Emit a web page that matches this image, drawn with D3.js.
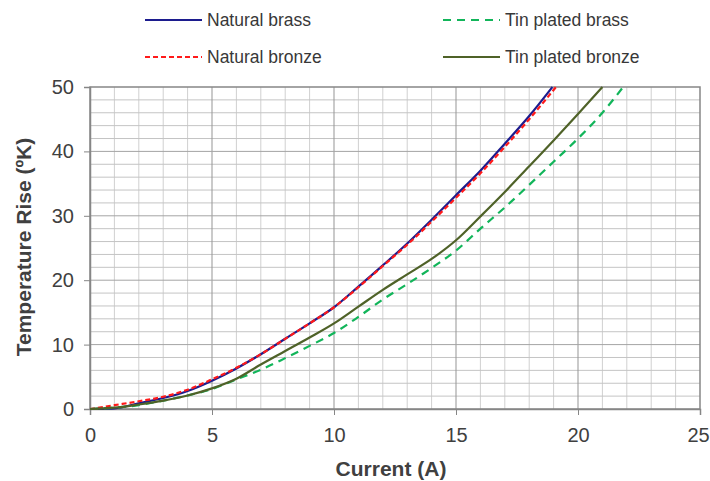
<!DOCTYPE html>
<html>
<head>
<meta charset="utf-8">
<script src="https://cdn.jsdelivr.net/npm/d3@7"></script>
<style>
  body { margin: 0; background: #fff; }
  svg { font-family: "Liberation Sans", Arial, sans-serif; }
</style>
</head>
<body>
<script>
const w = 710;
const h = 481;
const margin = { top: 87, right: 10, bottom: 73, left: 90 };

// values: current (A) -> temperature rise
const brassI = [0, 1, 2, 3, 4, 5, 6, 7, 8, 9, 10, 11, 12, 13, 14, 15, 16, 17, 18, 18.95];
const brassT = [0, 0.1, 0.9, 1.7, 2.8, 4.4, 6.3, 8.5, 10.9, 13.3, 15.8, 19.0, 22.3, 25.7, 29.4, 33.2, 37.0, 41.2, 45.5, 50];

const bronzeI = [0, 1, 2, 3, 4, 5, 6, 7, 8, 9, 10, 11, 12, 13, 14, 15, 16, 17, 18, 19.1];
const bronzeT = [0, 0.6, 1.2, 1.9, 3.0, 4.6, 6.4, 8.5, 10.9, 13.3, 15.8, 18.9, 22.2, 25.5, 29.1, 32.8, 36.6, 40.7, 45.0, 50];

const tinBrassI = [0, 1, 2, 3, 4, 5, 6, 7, 8, 9, 10, 11, 12, 13, 14, 15, 16, 17, 18, 19, 20, 21, 21.85];
const tinBrassT = [0, 0.2, 0.6, 1.3, 2.1, 3.1, 4.6, 6.1, 7.9, 9.8, 11.8, 14.3, 17.0, 19.4, 21.9, 24.6, 28.0, 31.3, 34.8, 38.4, 42.0, 46.0, 50];

const tinBronzeI = [0, 1, 2, 3, 4, 5, 6, 7, 8, 9, 10, 11, 12, 13, 14, 15, 16, 17, 18, 19, 20, 21];
const tinBronzeT = [0, 0.2, 0.7, 1.3, 2.1, 3.2, 4.7, 6.9, 9.0, 11.1, 13.3, 15.9, 18.5, 20.9, 23.3, 26.2, 29.9, 33.7, 37.7, 41.7, 45.8, 50];

const seriesNames = ['Natural brass', 'Natural bronze', 'Tin plated brass', 'Tin plated bronze'];
const xTicks = [0, 5, 10, 15, 20, 25];
const yTicks = [0, 10, 20, 30, 40, 50];

const series = [
  { name: seriesNames[0], xs: brassI, ys: brassT, color: '#1c1c8e', dash: null },
  { name: seriesNames[1], xs: bronzeI, ys: bronzeT, color: '#ff1a1a', dash: '5,3' },
  { name: seriesNames[2], xs: tinBrassI, ys: tinBrassT, color: '#12b55a', dash: '8,6' },
  { name: seriesNames[3], xs: tinBronzeI, ys: tinBronzeT, color: '#4f6228', dash: null }
];

const svg = d3.select('body')
  .append('svg')
  .attr('width', w)
  .attr('height', h);

const x = d3.scaleLinear().domain([0, 25]).range([margin.left, w - margin.right]);
const y = d3.scaleLinear().domain([0, 50]).range([h - margin.bottom + 1, margin.top]);

// minor grid
svg.append('g')
  .selectAll('line')
  .data(d3.range(1, 25).filter(d => d % 5 !== 0))
  .enter()
  .append('line')
  .attr('x1', d => x(d)).attr('x2', d => x(d))
  .attr('y1', y(0)).attr('y2', y(50))
  .attr('stroke', '#d0d0d0');

svg.append('g')
  .selectAll('line')
  .data(d3.range(2, 50, 2).filter(d => d % 10 !== 0))
  .enter()
  .append('line')
  .attr('x1', x(0)).attr('x2', x(25))
  .attr('y1', d => y(d)).attr('y2', d => y(d))
  .attr('stroke', '#c4c4c4');

// major grid
svg.append('g')
  .selectAll('line')
  .data(xTicks.slice(1, -1))
  .enter()
  .append('line')
  .attr('x1', d => x(d)).attr('x2', d => x(d))
  .attr('y1', y(0)).attr('y2', y(50))
  .attr('stroke', '#959595');

svg.append('g')
  .selectAll('line')
  .data(yTicks.slice(1, -1))
  .enter()
  .append('line')
  .attr('x1', x(0)).attr('x2', x(25))
  .attr('y1', d => y(d)).attr('y2', d => y(d))
  .attr('stroke', '#a4a4a4');

// border
svg.append('rect')
  .attr('x', x(0)).attr('y', y(50))
  .attr('width', x(25) - x(0)).attr('height', y(0) - y(50))
  .attr('fill', 'none')
  .attr('stroke', '#868686')
  .attr('stroke-width', 1.5);

// axes
const xAxis = svg.append('g')
  .attr('transform', `translate(0,${y(0)})`)
  .call(d3.axisBottom(x).tickValues(xTicks).tickSize(6).tickPadding(13));
const yAxis = svg.append('g')
  .attr('transform', `translate(${x(0)},0)`)
  .call(d3.axisLeft(y).tickValues(yTicks).tickSize(6).tickPadding(10));

[xAxis, yAxis].forEach(g => {
  g.select('.domain').attr('stroke', '#868686').attr('stroke-width', 1.5);
  g.selectAll('.tick line').attr('stroke', '#868686');
  g.selectAll('.tick text')
    .attr('fill', '#404040')
    .style('font-size', '20px')
    .style('font-family', '"Liberation Sans", Arial, sans-serif');
});

// last x label sits at the window edge, pull it in a little
xAxis.selectAll('.tick text').filter(d => d === 25).attr('dx', -2);

// curves
svg.append('clipPath').attr('id', 'plot')
  .append('rect')
  .attr('x', x(0)).attr('y', y(50) - 1)
  .attr('width', x(25) - x(0)).attr('height', y(0) - y(50) + 2);

const line = d3.line()
  .x(d => x(d[0]))
  .y(d => y(d[1]))
  .curve(d3.curveMonotoneX);

svg.append('g')
  .attr('clip-path', 'url(#plot)')
  .selectAll('path')
  .data(series)
  .enter()
  .append('path')
  .attr('d', s => line(d3.zip(s.xs, s.ys)))
  .attr('fill', 'none')
  .attr('stroke', s => s.color)
  .attr('stroke-width', 2.2)
  .attr('stroke-dasharray', s => s.dash);

// axis titles
svg.append('text')
  .text('Current (A)')
  .attr('x', 391)
  .attr('y', 476)
  .attr('text-anchor', 'middle')
  .style('font-size', '21px')
  .style('font-weight', 'bold')
  .style('fill', '#404040');

svg.append('text')
  .text('Temperature Rise (ºK)')
  .attr('transform', 'translate(31,247) rotate(-90)')
  .attr('text-anchor', 'middle')
  .style('font-size', '21px')
  .style('font-weight', 'bold')
  .style('fill', '#404040');

// legend
const legendPos = [[145, 20], [145, 57], [443, 20], [443, 57]];
const legend = svg.append('g')
  .selectAll('g')
  .data(series)
  .enter()
  .append('g')
  .attr('transform', (s, i) => `translate(${legendPos[i][0]},${legendPos[i][1]})`);

legend.append('line')
  .attr('x1', 0).attr('x2', 57)
  .attr('stroke', s => s.color)
  .attr('stroke-width', 2)
  .attr('stroke-dasharray', s => s.dash);

legend.append('text')
  .text(s => s.name)
  .attr('x', 62)
  .attr('y', 6)
  .style('font-size', '17.5px')
  .style('fill', '#383838');
</script>
</body>
</html>
